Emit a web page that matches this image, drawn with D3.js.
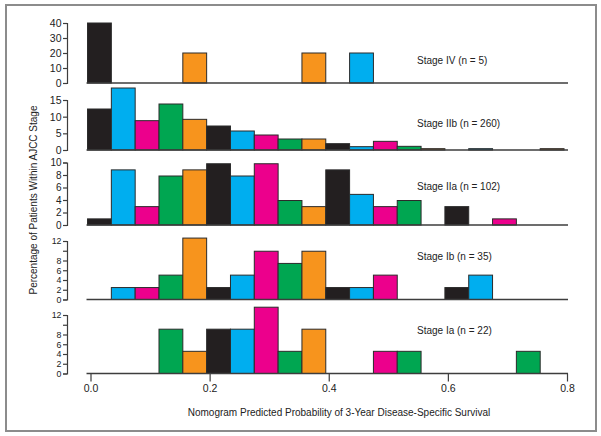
<!DOCTYPE html>
<html>
<head>
<meta charset="utf-8">
<script src="https://cdn.jsdelivr.net/npm/d3@7"></script>
<style>
  html, body { margin: 0; padding: 0; background: #fff; }
  svg { display: block; font-family: "Liberation Sans", Arial, sans-serif; }
</style>
</head>
<body>
<svg id="chart" width="601" height="436"></svg>
<script>
// ---- data ----
const binStarts = [0.00, 0.04, 0.08, 0.12, 0.16, 0.20, 0.24, 0.28, 0.32, 0.36,
                   0.40, 0.44, 0.48, 0.52, 0.56, 0.60, 0.64, 0.68, 0.72, 0.76];
const binWidth = 0.04;
const stageNames = ["Stage IV (n = 5)", "Stage IIb (n = 260)", "Stage IIa (n = 102)", "Stage Ib (n = 35)", "Stage Ia (n = 22)"];
const stageIV  = [40, 0, 0, 0, 20, 0, 0, 0, 0, 20, 0, 20, 0, 0, 0, 0, 0, 0, 0, 0];
const stageIIb = [12.3, 18.6, 8.8, 13.8, 9.2, 7.2, 5.7, 4.5, 3.3, 3.3, 1.9, 1.0, 2.6, 1.1, 0.4, 0, 0.4, 0, 0, 0.4];
const stageIIa = [0.98, 8.82, 2.94, 7.84, 8.82, 9.80, 7.84, 9.80, 3.92, 2.94, 8.82, 4.90, 2.94, 3.92, 0, 2.94, 0, 0.98, 0, 0];
const stageIb  = [0, 2.45, 2.45, 5.0, 12.6, 2.45, 5.0, 9.9, 7.4, 9.9, 2.45, 2.45, 5.0, 0, 0, 2.45, 5.0, 0, 0, 0];
const stageIa  = [0, 0, 0, 9.09, 4.55, 9.09, 9.09, 13.6, 4.55, 9.09, 0, 0, 4.55, 4.55, 0, 0, 0, 0, 4.55, 0];
const yMax      = [40, 15, 10, 12, 12];
const yTicks    = [[0, 10, 20, 30, 40], [0, 5, 10, 15], [0, 2, 4, 6, 8, 10], [0, 2, 4, 6, 8, 10, 12], [0, 2, 4, 6, 8, 10, 12]];
const yTickText = [[0, 10, 20, 30, 40], [0, 5, 10, 15], [0, 2, 4, 6, 8, 10], [0, 2, 4, 6, 8, 12], [0, 2, 4, 6, 8, 12]];
const xTicks = [0.0, 0.2, 0.4, 0.6, 0.8];
const binColors = ["#231f20", "#00aeef", "#ec008c", "#00a651", "#f7941d"];
const xTitle = "Nomogram Predicted Probability of 3-Year Disease-Specific Survival";
const yTitle = "Percentage of Patients Within AJCC Stage";

const series = [stageIV, stageIIb, stageIIa, stageIb, stageIa];

// ---- layout ----
const panelBase = [83, 150, 225, 299.5, 373.5];
const panelTop  = [23, 100, 162.5, 241, 315];
const tickFont  = [10.5, 10.5, 10, 8.8, 8.8];
const binOffset = -0.005;
const axisX = 67;

const svg = d3.select("#chart");

svg.append("rect")
  .attr("x", 6).attr("y", 5).attr("width", 590).attr("height", 426)
  .attr("fill", "none").attr("stroke", "#8c8c8c").attr("stroke-width", 2);

const x = d3.scaleLinear().domain([0, 0.8]).range([90.5, 567]);

series.forEach((vals, p) => {
  const y = d3.scaleLinear().domain([0, yMax[p]]).range([panelBase[p], panelTop[p]]);
  const g = svg.append("g");

  const bars = vals.map((v, i) => ({ v, i, x0: binStarts[i] + binOffset }))
                   .filter(d => d.v > 0);
  g.selectAll("rect.bar").data(bars).enter().append("rect")
    .attr("class", "bar")
    .attr("x", d => x(d.x0))
    .attr("width", d => x(d.x0 + binWidth) - x(d.x0))
    .attr("y", d => y(d.v))
    .attr("height", d => y(0) - y(d.v))
    .attr("fill", d => binColors[d.i % binColors.length])
    .attr("stroke", "#2b2b2b")
    .attr("stroke-width", 1);

  // baseline
  g.append("line")
    .attr("x1", x(binStarts[0] + binOffset) - 1).attr("x2", x(0.8) + 1)
    .attr("y1", y(0)).attr("y2", y(0))
    .attr("stroke", "#3d3d3d").attr("stroke-width", 1.6);

  // y axis
  const ya = d3.axisLeft(y)
    .tickValues(yTicks[p])
    .tickSize(4)
    .tickPadding(1.5)
    .tickFormat(d => yTickText[p].includes(d) ? d3.format("d")(d) : "");
  const yg = svg.append("g").attr("transform", `translate(${axisX},0)`).call(ya);
  yg.select(".domain").attr("stroke", "#3d3d3d").attr("stroke-width", 1.2);
  yg.selectAll(".tick line").attr("stroke", "#3d3d3d").attr("stroke-width", 1.2);
  yg.selectAll(".tick text").attr("font-size", tickFont[p]).attr("fill", "#222")
    .attr("font-family", "Liberation Sans, Arial, sans-serif");

  // stage label
  svg.append("text")
    .attr("x", 417).attr("y", [60, 123, 186.5, 256, 330][p])
    .attr("dy", "0.35em")
    .attr("font-size", 10).attr("fill", "#222")
    .text(stageNames[p]);
});

// x axis at bottom panel
const xa = d3.axisBottom(x).tickValues(xTicks).tickSize(8).tickPadding(3)
  .tickFormat(d3.format(".1f"));
const xg = svg.append("g").attr("transform", `translate(0,${panelBase[4]})`).call(xa);
xg.select(".domain").remove();
xg.selectAll(".tick line").attr("stroke", "#3d3d3d").attr("stroke-width", 1.2);
xg.selectAll(".tick text").attr("font-size", 10.5).attr("fill", "#222")
  .attr("font-family", "Liberation Sans, Arial, sans-serif");

svg.append("text")
  .attr("x", 339).attr("y", 412).attr("dy", "0.35em")
  .attr("text-anchor", "middle").attr("font-size", 10).attr("fill", "#222")
  .text(xTitle);

svg.append("text")
  .attr("transform", "translate(33,200) rotate(-90)")
  .attr("dy", "0.35em")
  .attr("text-anchor", "middle").attr("font-size", 10).attr("fill", "#222")
  .text(yTitle);
</script>
</body>
</html>
